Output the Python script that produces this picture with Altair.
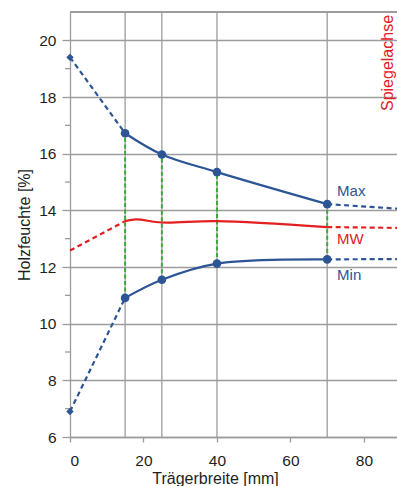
import altair as alt
import pandas as pd

# ---- data ----
x_pts = [0, 15, 25, 40, 70]
max_vals = [19.4, 16.72, 15.97, 15.35, 14.22]
min_vals = [6.9, 10.91, 11.55, 12.12, 12.27]
mw_x = [0, 15, 18, 25, 40, 70]
mw_vals = [12.58, 13.62, 13.68, 13.57, 13.62, 13.41]
x_end = 89
max_end = 14.06
min_end = 12.28
mw_end = 13.38

x_ticks = [0, 20, 40, 60, 80]
y_ticks = [6, 8, 10, 12, 14, 16, 18, 20]
y_minor = [7, 9, 11, 13, 15, 17, 19]
x_grid = [15, 25, 40, 70]
y_top = 21

labels = ["Max", "MW", "Min"]
label_x = [72.7, 72.7, 72.7]
label_y = [14.68, 13.0, 11.72]
label_col = ["#2D5596", "#E3201F", "#2D5596"]

BLUE = "#2D5596"
RED = "#E3201F"
GREEN = "#3AAA3A"
GRID = "#9C9C9C"
FONT = "Liberation Sans"
TXT = "#1E1E1E"

# ---- tables ----
solid_rows = []
for x, v in zip(x_pts[1:], max_vals[1:]):
    solid_rows.append({"s": "Max", "x": x, "y": v})
for x, v in zip(x_pts[1:], min_vals[1:]):
    solid_rows.append({"s": "Min", "x": x, "y": v})
for x, v in zip(mw_x[1:], mw_vals[1:]):
    solid_rows.append({"s": "MW", "x": x, "y": v})
solid = pd.DataFrame(solid_rows)

dash_rows = [
    {"seg": "max_a", "s": "Max", "x": x_pts[0], "y": max_vals[0]},
    {"seg": "max_a", "s": "Max", "x": x_pts[1], "y": max_vals[1]},
    {"seg": "max_b", "s": "Max", "x": x_pts[-1], "y": max_vals[-1]},
    {"seg": "max_b", "s": "Max", "x": x_end, "y": max_end},
    {"seg": "min_a", "s": "Min", "x": x_pts[0], "y": min_vals[0]},
    {"seg": "min_a", "s": "Min", "x": x_pts[1], "y": min_vals[1]},
    {"seg": "min_b", "s": "Min", "x": x_pts[-1], "y": min_vals[-1]},
    {"seg": "min_b", "s": "Min", "x": x_end, "y": min_end},
    {"seg": "mw_a", "s": "MW", "x": mw_x[0], "y": mw_vals[0]},
    {"seg": "mw_a", "s": "MW", "x": mw_x[1], "y": mw_vals[1]},
    {"seg": "mw_b", "s": "MW", "x": mw_x[-1], "y": mw_vals[-1]},
    {"seg": "mw_b", "s": "MW", "x": x_end, "y": mw_end},
]
dashed = pd.DataFrame(dash_rows)

pts = pd.DataFrame(
    [{"x": x, "y": v, "shape": "circle" if x > 0 else "diamond"} for x, v in zip(x_pts, max_vals)]
    + [{"x": x, "y": v, "shape": "circle" if x > 0 else "diamond"} for x, v in zip(x_pts, min_vals)]
)
green = pd.DataFrame({"x": x_pts[1:], "lo": min_vals[1:], "hi": max_vals[1:]})
vgrid = pd.DataFrame({"x": x_grid})
minor = pd.DataFrame({"y": y_minor})
lab = pd.DataFrame({"t": labels, "x": label_x, "y": label_y, "c": label_col})

xs = alt.Scale(domain=[0, x_end], nice=False, zero=False)
ys = alt.Scale(domain=[6, y_top], nice=False, zero=False)
col = alt.Color("s:N", scale=alt.Scale(domain=["Max", "Min", "MW"], range=[BLUE, BLUE, RED]), legend=None)

# base layer carrying the axes: vertical grid rules
base = alt.Chart(vgrid).mark_rule(color=GRID, strokeWidth=1.3).encode(
    x=alt.X("x:Q", scale=xs, axis=alt.Axis(
        values=x_ticks, grid=False, title="Trägerbreite [mm]", titleFont=FONT, titleFontSize=16,
        titleFontWeight="normal", titleColor=TXT, titleX=145, titlePadding=2,
        labelFont=FONT, labelFontSize=15.5, labelColor=TXT, labelPadding=11,
        tickSize=5, tickColor=GRID, domainColor=GRID, tickWidth=1.3, domainWidth=1.3)),
    y=alt.datum(y_top, scale=ys, axis=alt.Axis(
        values=y_ticks, grid=True, gridColor=GRID, gridWidth=1.3, title="Holzfeuchte [%]",
        titleFont=FONT, titleFontSize=16, titleFontWeight="normal", titleColor=TXT, titlePadding=6,
        labelFont=FONT, labelFontSize=15.5, labelColor=TXT, labelPadding=6,
        tickSize=8, tickColor=GRID, domainColor=GRID, tickWidth=1.3, domainWidth=1.3)),
    y2=alt.datum(6),
)

top_rule = alt.Chart(minor).mark_rule(color=GRID, strokeWidth=1.3).encode(
    y=alt.datum(y_top), x=alt.value(0), x2=alt.value(327)
)

minor_ticks = alt.Chart(minor).mark_rule(color=GRID, strokeWidth=1.3).encode(
    y=alt.Y("y:Q", scale=ys), x=alt.value(-5), x2=alt.value(0)
)

green_l = alt.Chart(green).mark_rule(color=GREEN, strokeWidth=2, strokeDash=[4, 2.5]).encode(
    x=alt.X("x:Q", scale=xs), y=alt.Y("lo:Q", scale=ys), y2="hi:Q"
)

dash_l = alt.Chart(dashed).mark_line(strokeWidth=2.2, strokeDash=[5, 3.5]).encode(
    x=alt.X("x:Q", scale=xs), y=alt.Y("y:Q", scale=ys), color=col, detail="seg:N"
)

solid_l = alt.Chart(solid).mark_line(strokeWidth=2.2, interpolate="catmull-rom").encode(
    x=alt.X("x:Q", scale=xs), y=alt.Y("y:Q", scale=ys), color=col, detail="s:N"
)

pts_l = alt.Chart(pts).mark_point(filled=True, opacity=1, color=BLUE).encode(
    x=alt.X("x:Q", scale=xs), y=alt.Y("y:Q", scale=ys),
    shape=alt.Shape("shape:N", scale=alt.Scale(domain=["circle", "diamond"], range=["circle", "diamond"]), legend=None),
    size=alt.Size("shape:N", scale=alt.Scale(domain=["circle", "diamond"], range=[75, 55]), legend=None),
)

text_l = alt.Chart(lab).mark_text(font=FONT, fontSize=15, align="left", baseline="middle").encode(
    x=alt.X("x:Q", scale=xs), y=alt.Y("y:Q", scale=ys), text="t:N",
    color=alt.Color("c:N", scale=None)
)

spiegel = alt.Chart(lab.head(1)).mark_text(
    font=FONT, fontSize=16, angle=270, color=RED, align="center", baseline="middle"
).encode(x=alt.datum(86.6), y=alt.datum(19.2), text=alt.value("Spiegelachse"))

chart = alt.layer(
    base, top_rule, minor_ticks, green_l, dash_l, solid_l, pts_l, text_l, spiegel
).properties(
    width=327, height=425,
    autosize=alt.AutoSizeParams(type="none"),
    padding={"left": 70, "top": 12, "right": 0, "bottom": 49},
).configure_view(stroke=None).configure(background="white")

chart.save("out.html", embed_options={"renderer": "svg", "actions": False})
